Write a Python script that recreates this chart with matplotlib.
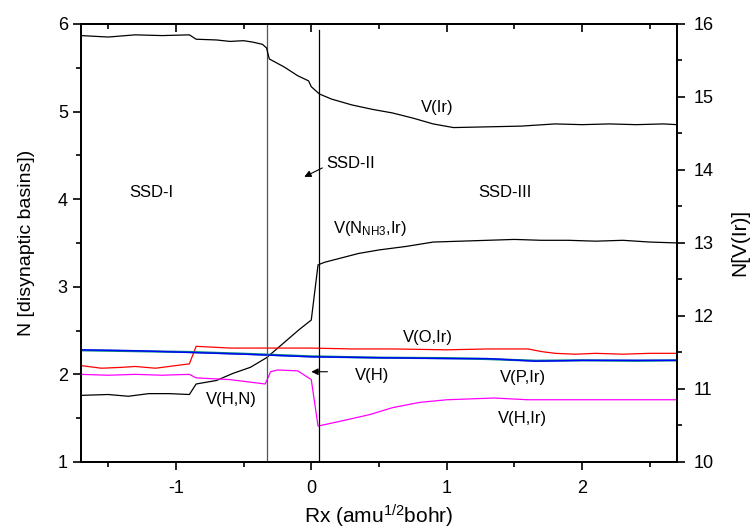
import matplotlib
matplotlib.use("Agg")
import matplotlib.pyplot as plt

plt.rcParams['font.family'] = ['Liberation Sans', 'DejaVu Sans']
plt.rcParams['mathtext.fontset'] = 'custom'
plt.rcParams['mathtext.rm'] = 'Liberation Sans'
plt.rcParams['mathtext.it'] = 'Liberation Sans'
plt.rcParams['axes.unicode_minus'] = False

# V(Ir) -> right axis
x_ir = [-1.7, -1.5, -1.3, -1.1, -0.9, -0.85, -0.7, -0.6, -0.5, -0.43, -0.36, -0.33, -0.31,
        -0.25, -0.2, -0.1, -0.02, 0.0, 0.06, 0.15, 0.3, 0.45, 0.6, 0.75, 0.9, 1.05, 1.3,
        1.55, 1.8, 2.0, 2.2, 2.4, 2.6, 2.7]
y_ir = [15.84, 15.82, 15.85, 15.84, 15.85, 15.79, 15.78, 15.76, 15.77, 15.75, 15.72, 15.67,
        15.52, 15.46, 15.41, 15.29, 15.22, 15.14, 15.04, 14.97, 14.89, 14.83, 14.78, 14.71,
        14.63, 14.58, 14.59, 14.60, 14.63, 14.62, 14.63, 14.62, 14.63, 14.62]

# V(N_NH3, Ir) / V(H,N)
x_nir = [-1.7, -1.5, -1.35, -1.2, -1.05, -0.9, -0.85, -0.7, -0.58, -0.45, -0.33, -0.21,
         -0.09, 0.0, 0.05, 0.1, 0.2, 0.35, 0.5, 0.7, 0.9, 1.1, 1.3, 1.5, 1.7, 1.9, 2.1,
         2.3, 2.5, 2.7]
y_nir = [1.76, 1.77, 1.75, 1.78, 1.78, 1.77, 1.89, 1.93, 2.01, 2.08, 2.19, 2.35, 2.51, 2.62,
         3.25, 3.28, 3.32, 3.38, 3.42, 3.46, 3.51, 3.52, 3.53, 3.54, 3.53, 3.53, 3.52, 3.53,
         3.51, 3.50]

# V(O,Ir)
x_oir = [-1.7, -1.55, -1.4, -1.3, -1.15, -1.05, -0.9, -0.85, -0.6, -0.3, 0.0, 0.3, 0.6, 1.0,
         1.3, 1.6, 1.7, 1.8, 1.95, 2.1, 2.3, 2.5, 2.7]
y_oir = [2.10, 2.07, 2.08, 2.09, 2.07, 2.09, 2.12, 2.32, 2.30, 2.30, 2.30, 2.29, 2.29, 2.28,
         2.29, 2.29, 2.26, 2.24, 2.23, 2.24, 2.23, 2.24, 2.24]

# V(P,Ir) (two nearly coincident traces)
x_pir = [-1.7, -1.3, -0.9, -0.5, -0.33, 0.0, 0.5, 1.0, 1.3, 1.66, 2.0, 2.4, 2.7]
y_pir_a = [2.28, 2.27, 2.25, 2.23, 2.22, 2.20, 2.19, 2.18, 2.18, 2.15, 2.16, 2.16, 2.16]
y_pir_b = [2.275, 2.265, 2.255, 2.235, 2.225, 2.205, 2.19, 2.185, 2.175, 2.155, 2.16, 2.155, 2.16]

# V(H) / V(H,Ir)
x_hir = [-1.7, -1.5, -1.3, -1.1, -0.9, -0.85, -0.6, -0.34, -0.3, -0.25, -0.1, 0.0, 0.05,
         0.2, 0.43, 0.6, 0.8, 1.0, 1.35, 1.6, 2.0, 2.7]
y_hir = [2.00, 1.99, 2.00, 1.99, 2.00, 1.96, 1.94, 1.89, 2.03, 2.05, 2.04, 1.94, 1.41,
         1.46, 1.54, 1.62, 1.68, 1.71, 1.73, 1.71, 1.71, 1.71]

boundaries = [-0.33, 0.056]

fig = plt.figure(figsize=(7.53, 5.31), dpi=100)
ax = fig.add_axes([0.1076, 0.130, 0.7914, 0.825])
ax2 = ax.twinx()

lw = 0.9
ax.plot(x_nir, y_nir, color='black', lw=lw)
ax.plot(x_oir, y_oir, color='#ff0000', lw=lw)
ax.plot(x_pir, y_pir_b, color='#008080', lw=1.6)
ax.plot(x_pir, y_pir_a, color='#0000ff', lw=1.0)
ax.plot(x_hir, y_hir, color='#ff00ff', lw=lw)
ax2.plot(x_ir, y_ir, color='black', lw=lw)

ax.axvline(boundaries[0], color='#555555', lw=0.9)
ax.plot([boundaries[1], boundaries[1]], [1, 5.93], color='black', lw=0.9)

ax.set_xlim(-1.7, 2.7)
ax.set_ylim(1, 6)
ax2.set_ylim(10, 16)

ax.set_xticks([-1, 0, 1, 2])
ax.set_xticks([-1.5, -0.5, 0.5, 1.5, 2.5], minor=True)
ax.set_yticks([1, 2, 3, 4, 5, 6])
ax.set_yticks([1.5, 2.5, 3.5, 4.5, 5.5], minor=True)
ax2.set_yticks([10, 11, 12, 13, 14, 15, 16])
ax2.set_yticks([10.5, 11.5, 12.5, 13.5, 14.5, 15.5], minor=True)

ax.tick_params(axis='both', which='major', direction='out', length=6, width=1.2,
               labelsize=13, top=False, right=False)
ax.tick_params(axis='x', which='major', pad=7)
ax.tick_params(axis='both', which='minor', direction='out', length=3.5, width=1.2,
               top=False, right=False)
ax2.tick_params(axis='y', which='major', direction='out', length=6, width=1.2, labelsize=13,
                pad=6)
ax2.tick_params(axis='y', which='minor', direction='out', length=3.5, width=1.2)

secx = ax.secondary_xaxis('top')
secx.set_xticks([-1, 0, 1, 2])
secx.set_xticks([-1.5, -0.5, 0.5, 1.5, 2.5], minor=True)
secx.tick_params(which='major', direction='in', length=6, width=1.2, labeltop=False)
secx.tick_params(which='minor', direction='in', length=3.5, width=1.2)
secx.spines['top'].set_linewidth(1.3)

for s in ax.spines.values():
    s.set_linewidth(1.3)
for s in ax2.spines.values():
    s.set_linewidth(1.3)

ax.set_xlabel('Rx (amu$^{1/2}$bohr)', fontsize=15, labelpad=4)
ax.set_ylabel('N [disynaptic basins])', fontsize=14, labelpad=16)
ax2.set_ylabel('N[V(Ir)]', fontsize=15, labelpad=12)

fs = 12
ax.text(0.93, 5.05, 'V(Ir)', fontsize=fs, ha='center', va='center')
ax.text(-1.18, 4.07, 'SSD-I', fontsize=fs, ha='center', va='center')
ax.text(0.29, 4.41, 'SSD-II', fontsize=fs, ha='center', va='center')
ax.annotate('', xy=(-0.07, 4.24), xytext=(0.10, 4.37),
            arrowprops=dict(arrowstyle='-|>', color='black', lw=0.8, mutation_scale=10))
ax.text(1.43, 4.08, 'SSD-III', fontsize=fs, ha='center', va='center')
ax.text(0.43, 3.67, 'V(N$_{\\mathrm{NH3}}$,Ir)', fontsize=fs, ha='center', va='center')
ax.text(0.86, 2.42, 'V(O,Ir)', fontsize=fs, ha='center', va='center')
ax.text(1.56, 1.96, 'V(P,Ir)', fontsize=fs, ha='center', va='center')
ax.text(1.56, 1.50, 'V(H,Ir)', fontsize=fs, ha='center', va='center')
ax.text(-0.59, 1.71, 'V(H,N)', fontsize=fs, ha='center', va='center')
ax.text(0.45, 1.99, 'V(H)', fontsize=fs, ha='center', va='center')
ax.annotate('', xy=(-0.02, 2.03), xytext=(0.14, 2.03),
            arrowprops=dict(arrowstyle='-|>', color='black', lw=0.8, mutation_scale=10))

fig.savefig('out.png', dpi=100)
